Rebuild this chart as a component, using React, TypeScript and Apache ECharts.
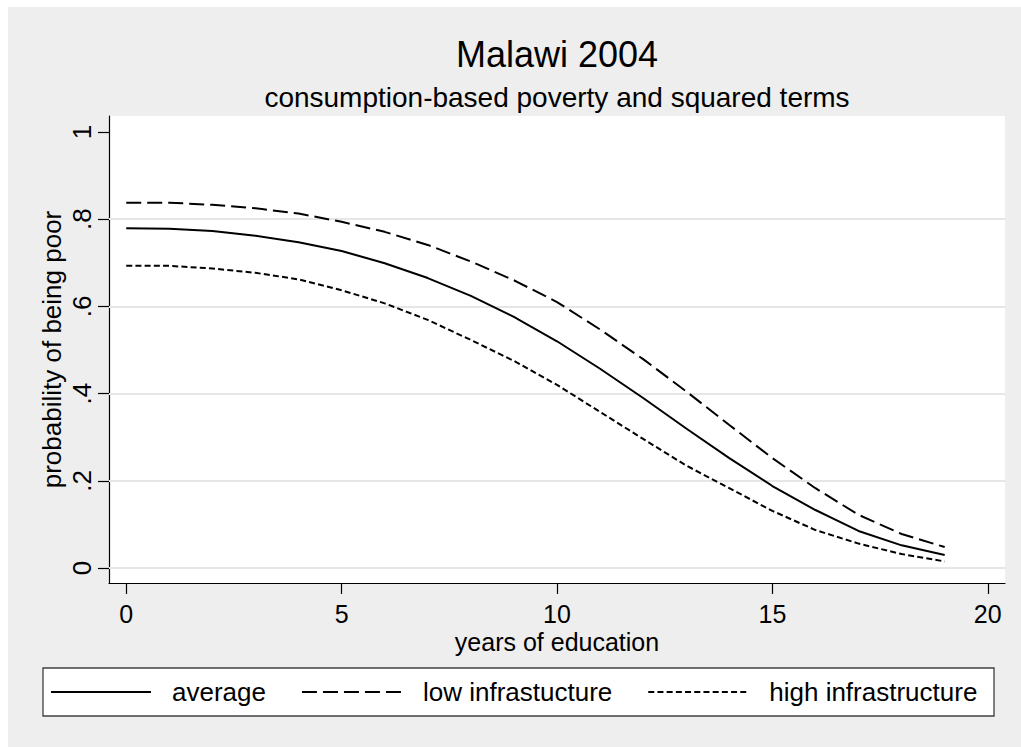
import React, { useEffect, useRef } from "react";
import * as echarts from "echarts";

// Predicted probability of being poor by years of education
const years = [0, 1, 2, 3, 4, 5, 6, 7, 8, 9, 10, 11, 12, 13, 14, 15, 16, 17, 18, 19];
const average = [0.779, 0.778, 0.773, 0.762, 0.747, 0.727, 0.699, 0.665, 0.624, 0.576, 0.52, 0.457, 0.39, 0.32, 0.252, 0.188, 0.133, 0.085, 0.052, 0.03];
const lowInfrastructure = [0.838, 0.838, 0.833, 0.825, 0.813, 0.794, 0.771, 0.741, 0.703, 0.66, 0.61, 0.547, 0.479, 0.405, 0.328, 0.252, 0.183, 0.122, 0.078, 0.048];
const highInfrastructure = [0.693, 0.693, 0.687, 0.677, 0.662, 0.637, 0.607, 0.569, 0.523, 0.475, 0.42, 0.358, 0.296, 0.235, 0.183, 0.131, 0.087, 0.056, 0.032, 0.015];

const xTicks = [0, 5, 10, 15, 20];
const yTicks = [0, 0.2, 0.4, 0.6, 0.8, 1];
const gridValues = [0, 0.2, 0.4, 0.6, 0.8];

const titleText = "Malawi 2004";
const subtitleText = "consumption-based poverty and squared terms";
const xName = "years of education";
const yName = "probability of being poor";
const seriesNames = ["average", "low infrastucture", "high infrastructure"];

const FONT = "'Liberation Sans', Arial, Helvetica, sans-serif";

export default function App() {
  const ref = useRef<HTMLDivElement>(null);

  useEffect(() => {
    if (!ref.current) return;
    const chart = echarts.init(ref.current, undefined, { renderer: "svg" });

    const pairs = (vals: number[]) => years.map((x, i) => [x, vals[i]]);
    const lineSeries = (name: string, vals: number[], dash: number[] | "solid") => ({
      name,
      type: "line",
      data: pairs(vals),
      symbol: "none",
      z: 3,
      lineStyle: { color: "#000", width: 2, type: dash },
      itemStyle: { color: "#000" },
    });

    const first: any = lineSeries(seriesNames[0], average, "solid");
    first.markLine = {
      silent: true,
      z: 1,
      symbol: "none",
      label: { show: false },
      lineStyle: { color: "#e6e6e6", width: 2, type: "solid" },
      data: gridValues.map((v) => ({ yAxis: v })),
    };

    chart.setOption({
      animation: false,
      backgroundColor: "#eeeeee",
      textStyle: { fontFamily: FONT },
      grid: {
        left: 101,
        top: 109,
        right: 16,
        bottom: 164,
        show: true,
        backgroundColor: "#ffffff",
        borderWidth: 0,
        containLabel: false,
      },
      xAxis: {
        type: "value",
        min: -0.4,
        max: 20.4,
        name: xName,
        nameLocation: "middle",
        nameGap: 48,
        nameMoveOverlap: false,
        nameTextStyle: { fontSize: 25, lineHeight: 22, color: "#000", fontFamily: FONT },
        axisLine: { show: true, onZero: false, lineStyle: { color: "#000", width: 1.2 } },
        axisTick: { show: true, length: 11, customValues: xTicks, lineStyle: { color: "#000", width: 1.2 } },
        axisLabel: { customValues: xTicks, fontSize: 25, lineHeight: 22, color: "#000", margin: 20, fontFamily: FONT },
        splitLine: { show: false },
      },
      yAxis: {
        type: "value",
        min: -0.0344,
        max: 1.0367,
        name: yName,
        nameLocation: "middle",
        nameGap: 44,
        nameMoveOverlap: false,
        nameRotate: 90,
        nameTextStyle: { fontSize: 26, color: "#000", fontFamily: FONT },
        axisLine: { show: true, onZero: false, lineStyle: { color: "#000", width: 1.2 } },
        axisTick: { show: true, length: 11, customValues: yTicks, lineStyle: { color: "#000", width: 1.2 } },
        axisLabel: {
          customValues: yTicks,
          rotate: 90,
          fontSize: 26,
          color: "#000",
          margin: 14,
          fontFamily: FONT,
          formatter: (v: number) => {
            const r = Math.round(v * 10) / 10;
            if (r === 0) return "0";
            if (r === 1) return "1";
            return String(r).replace(/^0\./, ".");
          },
        },
        splitLine: { show: false },
      },
      legend: {
        show: true,
        left: 42,
        top: 672,
        padding: 0,
        itemWidth: 100,
        itemHeight: 26,
        itemGap: 35,
        z: 5,
        itemStyle: { opacity: 0 },
        textStyle: { fontSize: 26, color: "#000", fontFamily: FONT, padding: [0, 0, 0, 16] },
        data: seriesNames,
      },
      graphic: {
        elements: [
          {
            type: "rect",
            z: 0,
            shape: { x: 35, y: 661, width: 951, height: 48 },
            style: { fill: "#ffffff", stroke: "#404040", lineWidth: 1.3 },
          },
          {
            type: "text",
            z: 2,
            x: 549,
            y: 47,
            style: {
              text: titleText,
              font: `36px ${FONT}`,
              fill: "#000",
              textAlign: "center",
              textVerticalAlign: "middle",
            },
          },
          {
            type: "text",
            z: 2,
            x: 549,
            y: 90,
            style: {
              text: subtitleText,
              font: `28px ${FONT}`,
              fill: "#000",
              textAlign: "center",
              textVerticalAlign: "middle",
            },
          },
        ],
      },
      series: [
        first,
        lineSeries(seriesNames[1], lowInfrastructure, [15, 6]),
        lineSeries(seriesNames[2], highInfrastructure, [6, 3.2]),
      ],
    });

    return () => chart.dispose();
  }, []);

  return (
    <div
      ref={ref}
      style={{ position: "fixed", left: 8, top: 7, width: 1013, height: 740 }}
    />
  );
}
